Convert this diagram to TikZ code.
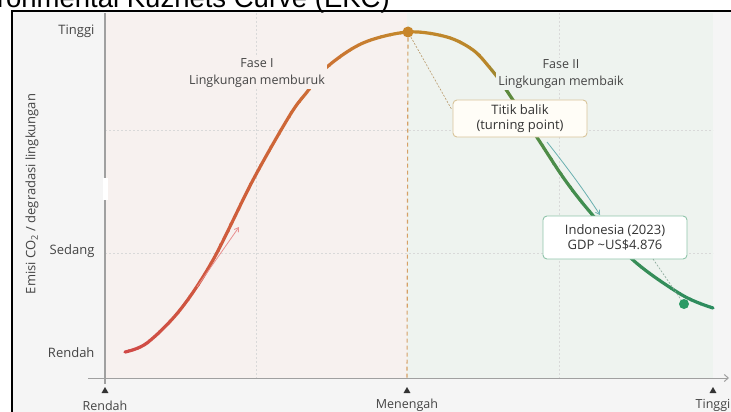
\documentclass[tikz,border=0pt]{standalone}
\usepackage{fontspec}
\setmainfont{Open Sans}
\newfontfamily\titlefont{Liberation Sans}
\usetikzlibrary{arrows.meta,shapes.geometric}
\definecolor{outerbg}{HTML}{F5F5F5}
\definecolor{pinkbg}{HTML}{F7F1EF}
\definecolor{greenbg}{HTML}{EEF3EF}
\definecolor{axisgray}{HTML}{A0A0A0}
\definecolor{gridgray}{HTML}{D9D9D9}
\definecolor{txt}{HTML}{444444}
\definecolor{cA}{HTML}{D04848}
\definecolor{cB}{HTML}{CE6A36}
\definecolor{cC}{HTML}{C4882C}
\definecolor{cD}{HTML}{B8862A}
\definecolor{cE}{HTML}{5F8A3C}
\definecolor{cF}{HTML}{3E8E52}
\definecolor{cG}{HTML}{2B8C60}
\definecolor{peakc}{HTML}{C8862A}
\definecolor{dotg}{HTML}{2A9A64}
\definecolor{tbborder}{HTML}{D8C49A}
\definecolor{tbfill}{HTML}{FFFDF7}
\definecolor{ibborder}{HTML}{8FC4AA}
\definecolor{vdash}{HTML}{D6A066}
\definecolor{leadbr}{HTML}{B89868}
\definecolor{leadgr}{HTML}{88A898}
\definecolor{arrteal}{HTML}{6AB0B0}
\definecolor{arrpink}{HTML}{E89090}
\newcommand\ekcline[1]{\draw[ekc,#1] plot[smooth,tension=0.55] coordinates {(125,352) (147,343) (180,310) (213,260) (253,180) (290,115) (307,92) (327,67) (363,43) (408,32) (447,37) (473,50) (490,68) (505,88) (540,142) (565,180) (590,212) (633,260) (682,295) (713,308)};}
\newcommand\gradband[5]{%
  \foreach \i in {1,...,#5}{%
    \pgfmathsetmacro\xa{#1+(#2-#1)*(\i-1)/#5}%
    \pgfmathsetmacro\xb{#1+(#2-#1)*\i/#5+0.7}%
    \pgfmathtruncatemacro\p{100-100*(\i-0.5)/#5}%
    \begin{scope}
      \clip (\xa,0) rectangle (\xb,412);
      \ekcline{draw=#3!\p!#4}
    \end{scope}}}
\begin{document}
\begin{tikzpicture}[x=1pt,y=-1pt,
  ekc/.style={line width=3.2pt,line cap=round},
  grid/.style={gridgray,line width=0.7pt,dash pattern=on 2pt off 2pt},
  axis/.style={axisgray,line width=1.2pt},
  lbl/.style={align=center,text=txt,font=\fontsize{12.5}{16.5}\selectfont,inner sep=2pt},
  ylab/.style={text=txt,font=\fontsize{13}{15}\selectfont,anchor=east},
  xlab/.style={text=txt,font=\fontsize{12.5}{14}\selectfont},
  tri/.style={regular polygon,regular polygon sides=3,fill=black!80,inner sep=0pt,minimum size=8pt},
  callout/.style={rounded corners=4pt,line width=0.9pt,align=center,text=black!80,font=\fontsize{13}{15.5}\selectfont},
  leader/.style={line width=0.6pt,dash pattern=on 2pt off 1.5pt},
  thinarr/.style={line width=0.8pt,-{Straight Barb[length=4pt,width=5pt]}}]
\useasboundingbox (0,0) rectangle (731,412);
% backgrounds
\fill[white] (0,0) rectangle (731,412);
\fill[outerbg] (12,11) rectangle (731,412);
\fill[pinkbg] (105,13) rectangle (407,378);
\fill[greenbg] (407,13) rectangle (713,378);
\draw[black,line width=1.2pt] (12,412) -- (12,11) -- (731,11);
% title (cut off at the top)
\node[anchor=base east,inner sep=0pt,font=\titlefont\fontsize{27.5}{28}\selectfont] (title) at (390,8) {Environmental Kuznets Curve (EKC)};
% grid
\draw[grid] (105,130) -- (713,130);
\draw[grid] (105,253) -- (713,253);
\draw[grid] (256,13) -- (256,378);
\draw[grid] (559,13) -- (559,378);
% axes
\coordinate (ytop) at (105,13);
\coordinate (ygapA) at (105,178);
\coordinate (ygapB) at (105,200);
\coordinate (ybot) at (105,384);
\coordinate (xl) at (88,378);
\coordinate (xr) at (729,378);
\draw[axis] (ytop) -- (ygapA);
\draw[axis] (ygapB) -- (ybot);
\fill[white] (103,178) rectangle (107.5,200);
\draw[axis,line width=1pt,-{Straight Barb[length=4pt,width=7pt]}] (xl) -- (xr);
% peak dashed vertical
\coordinate (vbot) at (407,378);
% curve with gradient
\gradband{118}{300}{cA}{cB}{18}
\gradband{300}{400}{cB}{cC}{10}
\gradband{400}{490}{cC}{cD}{9}
\gradband{490}{505}{cD}{cE}{2}
\gradband{505}{590}{cE}{cF}{9}
\gradband{590}{720}{cF}{cG}{13}
% dots
\node[circle,fill=peakc,inner sep=0pt,minimum size=11pt] (pk) at (408,32) {};
\draw[vdash,line width=1.1pt,dash pattern=on 4pt off 3pt] (pk) -- (vbot);
\node[circle,fill=dotg,inner sep=0pt,minimum size=10pt] (gd) at (684,304) {};
% phase labels
\node[lbl,fill=pinkbg] (f1) at (257,73) {Fase I\\Lingkungan memburuk};
\node[lbl,fill=greenbg] (f2) at (561,74) {Fase II\\Lingkungan membaik};
% thin direction arrows
\coordinate (pa1) at (197,287);
\coordinate (pa2) at (239,227);
\draw[thinarr,arrpink] (pa1) -- (pa2);
\coordinate (ta1) at (547,142);
\coordinate (ta2) at (600,215);
\draw[thinarr,arrteal] (ta1) .. controls (566,166) and (584,190) .. (ta2);
% callouts
\node[callout,draw=tbborder,fill=tbfill,minimum width=134pt,minimum height=37pt] (tb) at (520,118.5) {Titik balik\\(turning point)};
\node[callout,draw=ibborder,fill=white,minimum width=144pt,minimum height=43pt] (ib) at (615,237.5) {Indonesia (2023)\\GDP \textasciitilde US\$4.876};
\coordinate (tbl) at (452,110);
\draw[leader,leadbr] (pk) -- (tbl);
\coordinate (ibl) at (653,259);
\draw[leader,leadgr] (ibl) -- (gd);
% y labels
\node[ylab] (yt) at (98,31) {Tinggi};
\node[ylab] (ys) at (98,251) {Sedang};
\node[ylab] (yr) at (98,353) {Rendah};
\node[text=txt,font=\fontsize{13}{15}\selectfont,rotate=90] (yl) at (32,194) {Emisi CO\textsubscript{2} / degradasi lingkungan};
% x ticks and labels
\node[tri] (t1) at (105,391) {};
\node[tri] (t2) at (407,391) {};
\node[tri] (t3) at (713,391) {};
\node[xlab] (xa) at (105,405.5) {Rendah};
\node[xlab] (xb) at (407,405.5) {Menengah};
\node[xlab] (xc) at (713,405.5) {Tinggi};
\end{tikzpicture}
\end{document}
